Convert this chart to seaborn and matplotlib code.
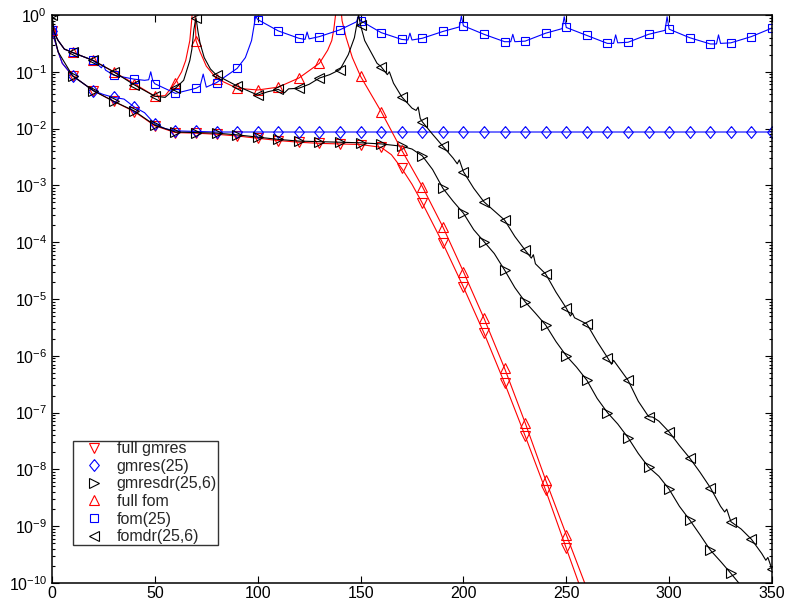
import numpy as np
import matplotlib
matplotlib.use("Agg")
import matplotlib.pyplot as plt
from matplotlib.lines import Line2D
from matplotlib.ticker import FixedLocator, LogFormatterSciNotation, NullFormatter
import seaborn as sns

# Residual histories: iteration numbers and log10 of the relative residual norm.
full_gmres_it = [0, 3, 5, 10, 20, 30, 40, 50, 60, 70, 80, 90, 100, 110, 120, 130, 140, 150,
                 160, 165, 170, 175, 180, 190, 200, 210, 220, 230, 240, 250, 260]
full_gmres_lg = [-0.28, -0.65, -0.85, -1.07, -1.33, -1.52, -1.70, -1.95, -2.07, -2.08, -2.10,
                 -2.13, -2.17, -2.21, -2.24, -2.26, -2.27, -2.28, -2.33, -2.46, -2.70, -2.98,
                 -3.31, -4.02, -4.79, -5.60, -6.48, -7.41, -8.37, -9.39, -10.4]

gmres25_it = [0, 3, 5, 10, 20, 25, 30, 35, 40, 45, 50, 55, 60, 70, 80, 90, 100, 110, 120, 130,
              140, 150, 160, 170, 180, 190, 200, 210, 220, 230, 240, 250, 260, 270, 280, 290,
              300, 310, 320, 330, 340, 350]
gmres25_lg = [-0.28, -0.65, -0.85, -1.07, -1.33, -1.40, -1.45, -1.48, -1.62, -1.72, -1.92,
              -2.00, -2.04, -2.05, -2.06, -2.06, -2.06, -2.06, -2.06, -2.06, -2.06, -2.06,
              -2.06, -2.06, -2.06, -2.06, -2.06, -2.06, -2.06, -2.06, -2.06, -2.06, -2.06,
              -2.06, -2.06, -2.06, -2.06, -2.06, -2.06, -2.06, -2.06, -2.06]

gmresdr_it = [0, 1, 3, 10, 20, 30, 40, 50, 60, 70, 80, 90, 100, 110, 120, 130, 140, 150, 160,
              170, 175, 180, 185, 190, 195, 200, 205, 210, 215, 220, 225, 230, 235, 240, 245,
              250, 255, 260, 265, 270, 275, 280, 285, 290, 295, 300, 305, 310, 315, 320, 325,
              330, 335]
gmresdr_lg = [0.0, -0.35, -0.65, -1.07, -1.33, -1.52, -1.69, -1.94, -2.06, -2.07, -2.08,
              -2.11, -2.15, -2.19, -2.22, -2.23, -2.24, -2.25, -2.27, -2.31, -2.36, -2.48,
              -2.72, -3.05, -3.28, -3.49, -3.78, -3.99, -4.20, -4.49, -4.80, -5.05, -5.25,
              -5.46, -5.75, -6.00, -6.20, -6.43, -6.75, -7.00, -7.20, -7.44, -7.72, -7.96,
              -8.12, -8.35, -8.65, -8.89, -9.15, -9.42, -9.62, -9.83, -10.05]

full_fom_it = [0, 3, 6, 10, 20, 30, 40, 50, 55, 60, 63, 65, 67, 68, 69, 70, 72, 75, 80, 90,
               100, 110, 120, 130, 134, 136, 137, 138, 139, 140, 141, 143, 146, 150, 160, 170,
               180, 190, 200, 210, 220, 230, 240, 250, 260]
full_fom_lg = [-0.26, -0.45, -0.60, -0.66, -0.80, -1.00, -1.21, -1.43, -1.42, -1.19, -1.00,
               -0.80, -0.45, -0.05, 0.50, -0.45, -0.65, -0.90, -1.12, -1.29, -1.32, -1.27,
               -1.11, -0.85, -0.62, -0.45, -0.25, 0.05, 0.80, 0.30, -0.10, -0.40, -0.75, -1.08,
               -1.70, -2.38, -3.02, -3.73, -4.52, -5.34, -6.22, -7.18, -8.19, -9.15, -10.1]

fom25_it = [0, 3, 6, 10, 20, 24, 25, 26, 30, 40, 45, 47, 48, 49, 50, 60, 70, 72, 73.5, 75,
            80, 90, 94, 97, 99, 100, 110, 120, 123, 124, 125, 130, 140, 148, 149, 150, 160,
            170, 173, 174, 175, 180, 190, 198, 199, 200, 210, 220, 223, 224, 225, 230, 240,
            248, 249, 250, 260, 270, 273, 274, 275, 280, 290, 298, 299, 300, 310, 320, 323,
            324, 325, 330, 340, 350]
fom25_lg = [-0.26, -0.45, -0.60, -0.66, -0.80, -0.93, -0.87, -0.97, -1.06, -1.13, -1.15,
            -1.14, -1.00, -1.16, -1.21, -1.38, -1.29, -1.25, -1.04, -1.27, -1.19, -0.94,
            -0.75, -0.45, -0.02, -0.08, -0.28, -0.41, -0.43, -0.30, -0.42, -0.38, -0.26,
            -0.12, -0.02, -0.10, -0.31, -0.43, -0.44, -0.32, -0.44, -0.41, -0.29, -0.21,
            -0.02, -0.19, -0.34, -0.47, -0.47, -0.34, -0.47, -0.46, -0.32, -0.24, -0.03,
            -0.22, -0.36, -0.50, -0.50, -0.35, -0.49, -0.48, -0.34, -0.27, -0.03, -0.25,
            -0.40, -0.51, -0.51, -0.35, -0.50, -0.49, -0.38, -0.23]

fomdr_it = [0, 1, 3, 6, 10, 20, 30, 40, 50, 55, 60, 64, 67, 68, 69, 70, 71, 72, 74, 77, 80,
            90, 100, 105, 110, 113, 115, 120, 125, 130, 135, 140, 144, 147, 149, 150, 152,
            155, 158, 160, 163, 164, 166, 170, 175, 177, 178, 179, 180, 185, 190, 195, 197,
            198, 200, 205, 210, 215, 220, 225, 230, 233, 234, 235, 240, 245, 250, 252, 253,
            254, 260, 265, 270, 272, 273, 280, 285, 290, 292, 295, 300, 305, 310, 315, 320,
            325, 327, 328, 330, 335, 340, 345, 347, 348, 350]
fomdr_lg = [0.0, -0.30, -0.45, -0.60, -0.66, -0.80, -1.00, -1.23, -1.43, -1.45, -1.29,
            -1.15, -0.80, -0.60, -0.25, -0.05, -0.30, -0.50, -0.75, -0.95, -1.06, -1.25,
            -1.41, -1.35, -1.31, -1.37, -1.30, -1.29, -1.22, -1.11, -1.05, -0.96, -0.70,
            -0.40, 0.00, -0.18, -0.45, -0.65, -0.85, -0.91, -1.05, -1.00, -1.20, -1.44,
            -1.64, -1.68, -1.62, -1.82, -1.88, -2.10, -2.31, -2.52, -2.62, -2.55, -2.76,
            -3.05, -3.29, -3.45, -3.61, -3.90, -4.14, -4.28, -4.22, -4.38, -4.56, -4.88,
            -5.16, -5.30, -5.25, -5.33, -5.44, -5.75, -6.03, -6.15, -6.08, -6.43, -6.80,
            -7.07, -7.08, -7.15, -7.34, -7.58, -7.80, -8.05, -8.32, -8.65, -8.75, -8.70,
            -8.92, -9.05, -9.23, -9.48, -9.60, -9.55, -9.76]

labels = ["full gmres", "gmres(25)", "gmresdr(25,6)", "full fom", "fom(25)", "fomdr(25,6)"]
colors = ["#ff0000", "#0000ff", "#000000", "#ff0000", "#0000ff", "#000000"]
x_ticks = [0, 50, 100, 150, 200, 250, 300, 350]
y_decades = list(range(-10, 1))

# a diamond a little taller than it is wide
tall_diamond = [(0, 1), (0.82, 0), (0, -1), (-0.82, 0), (0, 1)]
markers = ["v", tall_diamond, ">", "^", "s", "<"]
msizes = [7.5, 8.5, 7.5, 7.5, 6.0, 7.5]

series = [(full_gmres_it, full_gmres_lg), (gmres25_it, gmres25_lg),
          (gmresdr_it, gmresdr_lg), (full_fom_it, full_fom_lg),
          (fom25_it, fom25_lg), (fomdr_it, fomdr_lg)]

sns.set_style("ticks")
plt.rcParams["font.family"] = ["Liberation Sans", "DejaVu Sans"]
plt.rcParams["mathtext.default"] = "regular"

fig = plt.figure(figsize=(7.85, 6.07), dpi=100)
ax = fig.add_axes([52 / 785, 1 - 583 / 607, 720 / 785, 568 / 607])

for (it, lg), lab, col, mk, ms in zip(series, labels, colors, markers, msizes):
    it = np.asarray(it, dtype=float)
    res = 10.0 ** np.asarray(lg, dtype=float)
    every = [i for i, v in enumerate(it) if v % 10 == 0]
    sns.lineplot(x=it, y=res, ax=ax, color=col, linewidth=0.8, estimator=None,
                 sort=False, marker=mk, markersize=ms, markevery=every,
                 markerfacecolor="none", markeredgecolor=col, markeredgewidth=0.8)

ax.set_yscale("log")
ax.set_xlim(0, 350)
ax.set_ylim(1e-10, 1)
ax.xaxis.set_major_locator(FixedLocator(x_ticks))
major_y = [10.0 ** d for d in y_decades]
minor_y = [m * 10.0 ** d for d in y_decades[:-1] for m in range(2, 10)]
ax.yaxis.set_major_locator(FixedLocator(major_y))
ax.yaxis.set_major_formatter(LogFormatterSciNotation())
ax.yaxis.set_minor_locator(FixedLocator(minor_y))
ax.yaxis.set_minor_formatter(NullFormatter())
ax.tick_params(which="both", direction="in", top=True, right=True, colors="black",
               labelsize=11.5, width=0.8)
ax.tick_params(which="major", length=5)
ax.tick_params(which="minor", length=2.5)
ax.tick_params(axis="x", pad=2.5)
for sp in ax.spines.values():
    sp.set_visible(True)
    sp.set_color("black")
    sp.set_linewidth(1.1)
ax.set_xlabel(None)
ax.set_ylabel(None)
ax.xaxis.label.set_visible(False)
ax.yaxis.label.set_visible(False)

handles = [Line2D([], [], linestyle="none", marker=mk, markersize=ms, markerfacecolor="none",
                  markeredgecolor=col, markeredgewidth=0.8)
           for col, mk, ms in zip(colors, markers, msizes)]
leg = ax.legend(handles, labels, loc="lower left", bbox_to_anchor=(0.029, 0.067),
                frameon=True, fancybox=False, fontsize=11.5, labelspacing=0.16,
                handlelength=2.6, handletextpad=0.1, borderpad=0.05, borderaxespad=0.0)
leg.get_frame().set_edgecolor("black")
leg.get_frame().set_linewidth(1.0)

fig.savefig("out.png", dpi=100, facecolor="white")
